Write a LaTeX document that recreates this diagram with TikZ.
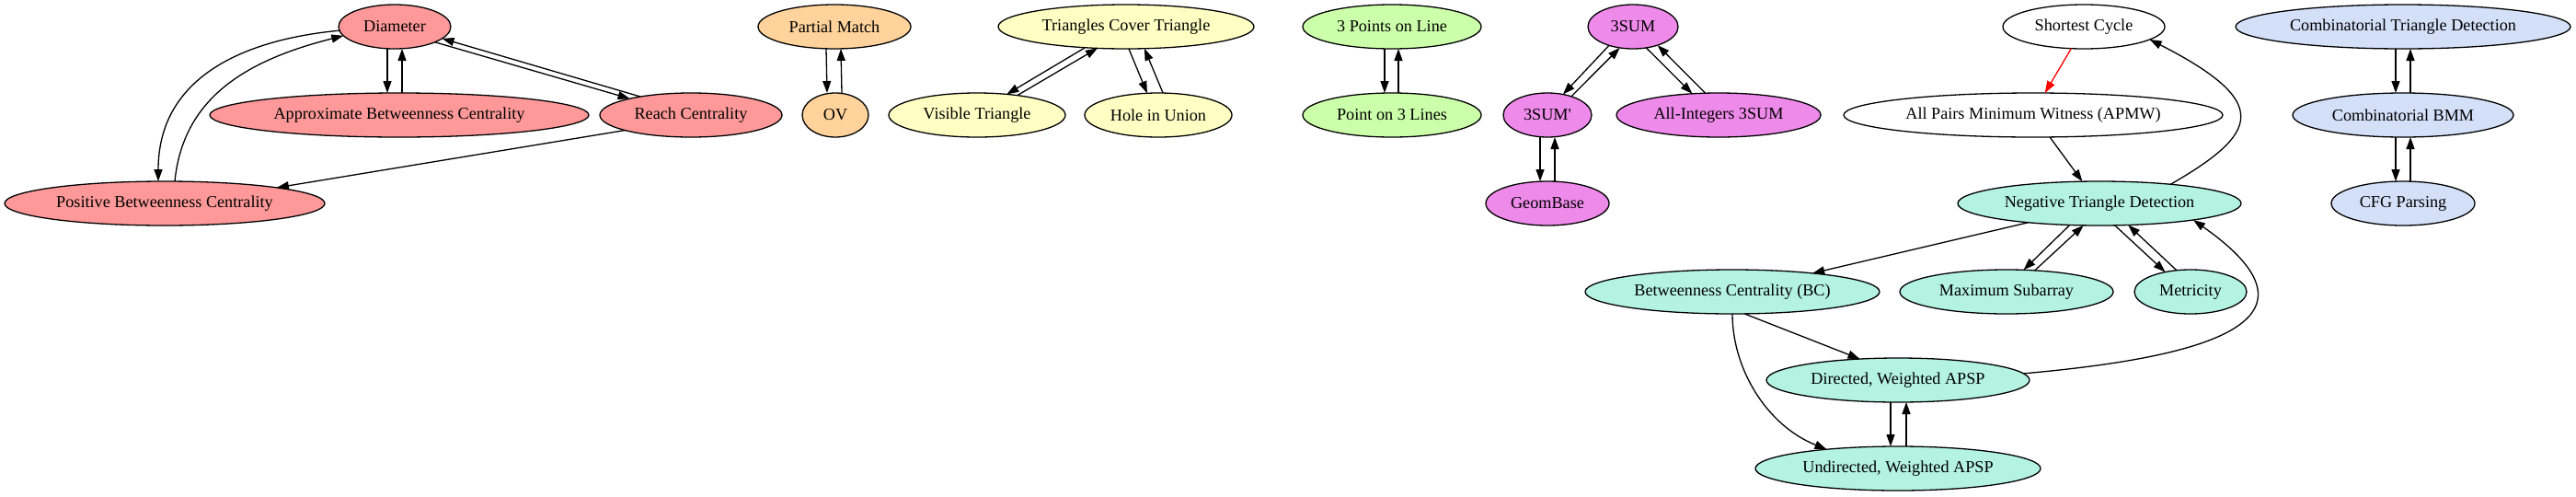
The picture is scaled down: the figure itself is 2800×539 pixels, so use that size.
\documentclass[tikz,border=0pt]{standalone}
\usepackage{fontspec}
\newfontfamily\gvfont{Liberation Serif}[Ligatures=TeXOff]
\usetikzlibrary{shapes.geometric,arrows.meta}
\definecolor{cR}{HTML}{FF9999}
\definecolor{cO}{HTML}{FFD39B}
\definecolor{cY}{HTML}{FFFFC4}
\definecolor{cG}{HTML}{CCFFAA}
\definecolor{cV}{HTML}{EE8AEA}
\definecolor{cT}{HTML}{B4F2E2}
\definecolor{cB}{HTML}{D3E0F8}
\tikzset{
  nd/.style={ellipse, draw=black, line width=1.3pt, inner sep=0pt, outer sep=0pt,
    minimum height=48pt, font=\gvfont\fontsize{18.2}{21}\selectfont},
  ed/.style={-{Triangle[length=13pt,width=9pt]}, line width=1.3pt},
}
\begin{document}
\begin{tikzpicture}[x=1pt,y=1pt]
\useasboundingbox (0,0) rectangle (2800,-539);
\fill[white] (0,0) rectangle (2800,-539);
% group 1
\node[nd, fill=cR, minimum width=122pt] (D) at (429,-29) {Diameter};
\node[nd, fill=cR, minimum width=412pt] (ABC) at (434,-125) {Approximate Betweenness Centrality};
\node[nd, fill=cR, minimum width=198pt] (RC) at (751,-125) {Reach Centrality};
\node[nd, fill=cR, minimum width=348pt] (PBC) at (179,-221) {Positive Betweenness Centrality};
% group 2
\node[nd, fill=cO, minimum width=166pt] (PM) at (907,-29) {Partial Match};
\node[nd, fill=cO, minimum width=72pt] (OV) at (908,-125) {OV};
% group 3
\node[nd, fill=cY, minimum width=278pt] (TCT) at (1224,-29) {Triangles Cover Triangle};
\node[nd, fill=cY, minimum width=192pt] (VT) at (1062,-125) {Visible Triangle};
\node[nd, fill=cY, minimum width=160pt] (HU) at (1259,-125) {Hole in Union};
% group 4
\node[nd, fill=cG, minimum width=194pt] (PL) at (1513,-29) {3 Points on Line};
\node[nd, fill=cG, minimum width=194pt] (PTL) at (1513,-125) {Point on 3 Lines};
% group 5
\node[nd, fill=cV, minimum width=98pt] (S3) at (1775,-29) {3SUM};
\node[nd, fill=cV, minimum width=96pt] (S3p) at (1682,-125) {3SUM'};
\node[nd, fill=cV, minimum width=222pt] (AI) at (1868,-125) {All-Integers 3SUM};
\node[nd, fill=cV, minimum width=134pt] (GB) at (1682,-221) {GeomBase};
% group 6
\node[nd, fill=white, minimum width=176pt] (SC) at (2265,-29) {Shortest Cycle};
\node[nd, fill=white, minimum width=412pt] (APMW) at (2210,-125) {All Pairs Minimum Witness (APMW)};
\node[nd, fill=cT, minimum width=308pt] (NTD) at (2282,-221) {Negative Triangle Detection};
\node[nd, fill=cT, minimum width=320pt] (BC) at (1883,-317) {Betweenness Centrality (BC)};
\node[nd, fill=cT, minimum width=232pt] (MS) at (2181,-317) {Maximum Subarray};
\node[nd, fill=cT, minimum width=122pt] (Met) at (2381,-317) {Metricity};
\node[nd, fill=cT, minimum width=286pt] (DA) at (2063,-413) {Directed, Weighted APSP};
\node[nd, fill=cT, minimum width=310pt] (UA) at (2063,-509) {Undirected, Weighted APSP};
% group 7
\node[nd, fill=cB, minimum width=364pt] (CTD) at (2612,-29) {Combinatorial Triangle Detection};
\node[nd, fill=cB, minimum width=240pt] (CBMM) at (2612,-125) {Combinatorial BMM};
\node[nd, fill=cB, minimum width=156pt] (CFG) at (2612,-221) {CFG Parsing};

% edges group 1
\draw[ed] ([xshift=-8pt]D.south) -- ([xshift=-13pt]ABC.north);
\draw[ed] ([xshift=3pt]ABC.north) -- ([xshift=8pt]D.south);
\draw[ed] (D.-21) -- (RC.165);
\draw[ed] (RC.160) -- (D.-14);
\draw[ed] (D.184) .. controls +(-97,-9) and +(0,117) .. ([xshift=-7pt]PBC.north);
\draw[ed] ([xshift=11pt]PBC.north) .. controls +(9,90) and +(-107,-27) .. (D.190);
\draw[ed] (RC.193) -- (PBC.8);
% group 2
\draw[ed] ([xshift=-9pt]PM.south) -- ([xshift=-9pt]OV.north);
\draw[ed] ([xshift=7pt]OV.north) -- ([xshift=7pt]PM.south);
% group 3
\draw[ed] (TCT.207) -- (VT.35);
\draw[ed] (VT.26) -- (TCT.217);
\draw[ed] (TCT.-83) -- (HU.117);
\draw[ed] (HU.78) -- (TCT.-50);
% group 4
\draw[ed] ([xshift=-8pt]PL.south) -- ([xshift=-8pt]PTL.north);
\draw[ed] ([xshift=7pt]PTL.north) -- ([xshift=7pt]PL.south);
% group 5
\draw[ed] (S3.218) -- (S3p.53);
\draw[ed] (S3p.38) -- (S3.238);
\draw[ed] (S3.-58) -- (AI.141);
\draw[ed] (AI.121) -- (S3.-37);
\draw[ed] ([xshift=-8pt]S3p.south) -- ([xshift=-8pt]GB.north);
\draw[ed] ([xshift=8pt]GB.north) -- ([xshift=8pt]S3p.south);
% group 6
\draw[ed, red] (SC.240) -- (APMW.62);
\draw[ed] (APMW.-53) -- (NTD.128);
\draw[ed] (NTD.15) .. controls +(95,55) and +(135,-69) .. (SC.-11);
\draw[ed] (NTD.195) -- (BC.13);
\draw[ed] (NTD.216) -- (MS.52);
\draw[ed] (MS.37) -- (NTD.234);
\draw[ed] (NTD.-55) -- (Met.142);
\draw[ed] (Met.123) -- (NTD.-37);
\draw[ed] (BC.-61) -- (DA.151);
\draw[ed] (BC.-90) .. controls +(0,-60) and +(-65,26) .. (UA.165);
\draw[ed] ([xshift=-8pt]DA.south) -- ([xshift=-8pt]UA.north);
\draw[ed] ([xshift=9pt]UA.north) -- ([xshift=9pt]DA.south);
\draw[ed] (DA.3) .. controls +(180,16) and +(164,-115) .. (NTD.-10);
% group 7
\draw[ed] ([xshift=-8pt]CTD.south) -- ([xshift=-8pt]CBMM.north);
\draw[ed] ([xshift=8pt]CBMM.north) -- ([xshift=8pt]CTD.south);
\draw[ed] ([xshift=-8pt]CBMM.south) -- ([xshift=-8pt]CFG.north);
\draw[ed] ([xshift=8pt]CFG.north) -- ([xshift=8pt]CBMM.south);
\end{tikzpicture}
\end{document}
